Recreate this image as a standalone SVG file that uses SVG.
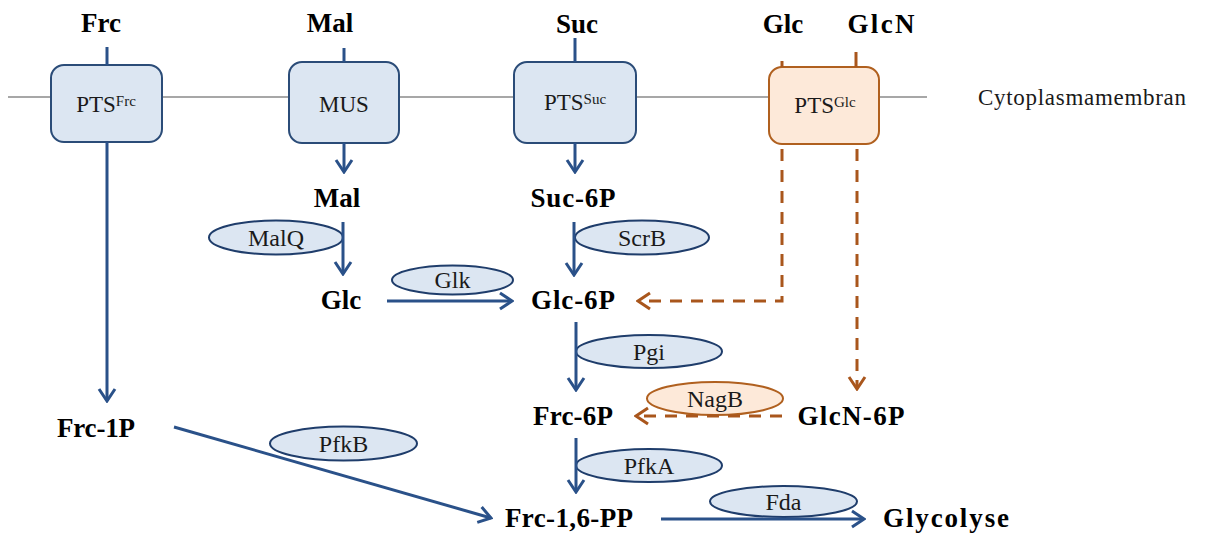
<svg xmlns="http://www.w3.org/2000/svg" width="1206" height="533" viewBox="0 0 1206 533">
<style>
.met{font-family:"Liberation Serif","Times New Roman",serif;font-weight:bold;font-size:27px;fill:#000;text-anchor:middle}
.enz{font-family:"Liberation Serif","Times New Roman",serif;font-size:24px;fill:#1a1a1a;text-anchor:middle}
.boxt{font-family:"Liberation Serif","Times New Roman",serif;font-size:23px;fill:#1a1a1a;text-anchor:middle}
.memt{font-family:"Liberation Serif","Times New Roman",serif;font-size:23px;fill:#1a1a1a}
.bbox{fill:#dce6f2;stroke:#2b4c78;stroke-width:2}
.obox{fill:#fde9d9;stroke:#b0601f;stroke-width:2}
.bell{fill:#dce6f2;stroke:#1f3d6b;stroke-width:2}
.oell{fill:#fde9d9;stroke:#b0601f;stroke-width:2}
.bl{fill:none;stroke:#2a5189;stroke-width:3}
.ol{fill:none;stroke:#a9561c;stroke-width:3;stroke-dasharray:12 9}
.os{fill:none;stroke:#a9561c;stroke-width:3}
.mem{stroke:#8a8a8a;stroke-width:1.5}
</style>
<defs>
<marker id="ab" markerUnits="userSpaceOnUse" viewBox="-14 -11 16 22" markerWidth="16" markerHeight="22" refX="0" refY="0" orient="auto">
<path d="M-12,-8 L0,0 L-12,8" fill="none" stroke="#2a5189" stroke-width="3"/>
</marker>
<marker id="ao" markerUnits="userSpaceOnUse" viewBox="-14 -11 16 22" markerWidth="16" markerHeight="22" refX="0" refY="0" orient="auto">
<path d="M-12,-8 L0,0 L-12,8" fill="none" stroke="#a9561c" stroke-width="3"/>
</marker>
</defs>
<rect width="1206" height="533" fill="#fff"/>

<g id="membrane">
<line class="mem" x1="8" y1="97" x2="927" y2="97"/>
<text class="memt" x="978" y="105" textLength="208">Cytoplasmamembran</text>
</g>

<g id="pts-frc">
<rect class="bbox" x="51" y="65" width="111" height="77" rx="13"/>
<text class="boxt" x="106" y="112">PTS<tspan font-size="15" dy="-6">Frc</tspan></text>
</g>
<g id="mus">
<rect class="bbox" x="289" y="62" width="110" height="81" rx="13"/>
<text class="boxt" x="344" y="112">MUS</text>
</g>
<g id="pts-suc">
<rect class="bbox" x="514" y="62" width="122" height="81" rx="13"/>
<text class="boxt" x="575" y="110">PTS<tspan font-size="15" dy="-6">Suc</tspan></text>
</g>
<g id="pts-glc">
<rect class="obox" x="769" y="67" width="110" height="77" rx="13"/>
<text class="boxt" x="825" y="113">PTS<tspan font-size="15" dy="-6">Glc</tspan></text>
</g>

<g id="frc-out"><text class="met" x="101" y="32">Frc</text></g>
<g id="mal-out"><text class="met" x="330" y="32">Mal</text></g>
<g id="suc-out"><text class="met" x="577" y="33">Suc</text></g>
<g id="glc-out"><text class="met" x="783" y="33">Glc</text></g>
<g id="glcn-out"><text class="met" x="881" y="33" textLength="67">GlcN</text></g>
<g id="mal-in"><text class="met" x="337" y="207">Mal</text></g>
<g id="suc6p"><text class="met" x="573" y="207" textLength="85">Suc-6P</text></g>
<g id="glc-in"><text class="met" x="341" y="309">Glc</text></g>
<g id="glc6p"><text class="met" x="573" y="309" textLength="84">Glc-6P</text></g>
<g id="frc1p"><text class="met" x="96" y="437" textLength="78">Frc-1P</text></g>
<g id="frc6p"><text class="met" x="573" y="425" textLength="80">Frc-6P</text></g>
<g id="glcn6p"><text class="met" x="851" y="425" textLength="107">GlcN-6P</text></g>
<g id="frc16pp"><text class="met" x="569" y="527" textLength="128">Frc-1,6-PP</text></g>
<g id="glycolyse"><text class="met" x="946" y="527" textLength="126">Glycolyse</text></g>

<g id="malq"><ellipse class="bell" cx="276" cy="237.5" rx="67" ry="17"/><text class="enz" x="276" y="246">MalQ</text></g>
<g id="scrb"><ellipse class="bell" cx="642" cy="237.5" rx="67" ry="17"/><text class="enz" x="642" y="246">ScrB</text></g>
<g id="glk"><ellipse class="bell" cx="452.5" cy="280" rx="60.5" ry="14.5"/><text class="enz" x="452.5" y="288">Glk</text></g>
<g id="pgi"><ellipse class="bell" cx="649" cy="351.5" rx="73" ry="16.5"/><text class="enz" x="649" y="360">Pgi</text></g>
<g id="nagb"><ellipse class="oell" cx="715" cy="398.5" rx="68" ry="16.5"/><text class="enz" x="715" y="407">NagB</text></g>
<g id="pfkb"><ellipse class="bell" cx="343.5" cy="443.5" rx="73.5" ry="17"/><text class="enz" x="343.5" y="452">PfkB</text></g>
<g id="pfka"><ellipse class="bell" cx="649" cy="465.5" rx="73" ry="16.5"/><text class="enz" x="649" y="474">PfkA</text></g>
<g id="fda"><ellipse class="bell" cx="783.5" cy="501.5" rx="73.5" ry="15.5"/><text class="enz" x="783.5" y="510">Fda</text></g>

<g id="connectors">
<line class="bl" x1="107" y1="47" x2="107" y2="65"/>
<line class="bl" x1="107" y1="142" x2="107" y2="401" marker-end="url(#ab)"/>
<line class="bl" x1="344" y1="48" x2="344" y2="62"/>
<line class="bl" x1="344" y1="143" x2="344" y2="172" marker-end="url(#ab)"/>
<line class="bl" x1="575" y1="38" x2="575" y2="62"/>
<line class="bl" x1="575" y1="143" x2="575" y2="172" marker-end="url(#ab)"/>
<line class="bl" x1="343" y1="222" x2="343" y2="274" marker-end="url(#ab)"/>
<line class="bl" x1="574" y1="222" x2="574" y2="275" marker-end="url(#ab)"/>
<line class="bl" x1="387" y1="301" x2="512" y2="301" marker-end="url(#ab)"/>
<line class="bl" x1="576" y1="322" x2="576" y2="390" marker-end="url(#ab)"/>
<line class="bl" x1="576" y1="438" x2="576" y2="492" marker-end="url(#ab)"/>
<line class="bl" x1="174" y1="427" x2="491" y2="518" marker-end="url(#ab)"/>
<line class="bl" x1="661" y1="519" x2="864" y2="519" marker-end="url(#ab)"/>
<line class="os" x1="782" y1="61" x2="782" y2="67"/>
<line class="os" x1="856" y1="52" x2="856" y2="67"/>
<path class="ol" d="M782,149 V301 H638" marker-end="url(#ao)"/>
<path class="ol" d="M857,149 V389" marker-end="url(#ao)"/>
<path class="ol" d="M782,416 H636" marker-end="url(#ao)"/>
</g>
</svg>
